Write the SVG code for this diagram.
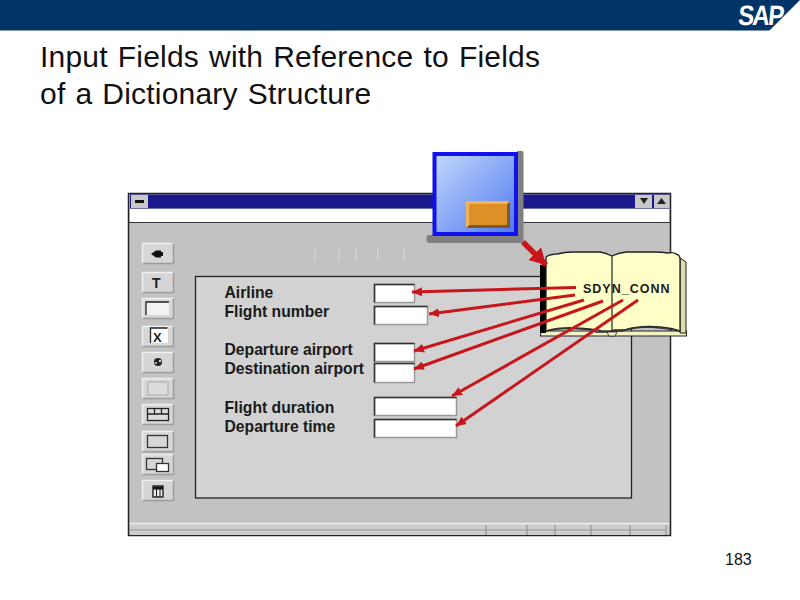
<svg xmlns="http://www.w3.org/2000/svg" width="800" height="600" viewBox="0 0 800 600">
<style>
.title{font:30px "Liberation Sans",Arial,sans-serif;fill:#111;letter-spacing:.2px;word-spacing:1.500px}
.lab{font:bold 15.700px "Liberation Sans",Arial,sans-serif;fill:#1a1a1a}
.fld{fill:#fff;stroke:#999;stroke-width:1.500}
.fe{fill:none;stroke:#333;stroke-width:1.500}
.ic{fill:none;stroke:#222;stroke-width:1.300}
.arr{fill:none;stroke:#c8161d;stroke-width:3;marker-end:url(#ah)}
.tick{stroke:#d8d8d8;stroke-width:1}
</style>
<defs>
<marker id="ah" markerUnits="userSpaceOnUse" markerWidth="11" markerHeight="9" refX="10" refY="4.500" orient="auto"><path d="M0 0L10 4.500L0 9z" fill="#c8161d"/></marker>
<marker id="ahb" markerUnits="userSpaceOnUse" markerWidth="18" markerHeight="18" refX="16" refY="9" orient="auto"><path d="M0 0L16 9L0 18z" fill="#c8161d"/></marker>
<linearGradient id="blue" x1="0" y1="0" x2="1" y2="1"><stop offset="0" stop-color="#c2d9fb"/><stop offset="1" stop-color="#4f78ee"/></linearGradient>
<g id="bv">
<rect x="0" y="0" width="32" height="21" fill="#d6d6d6"/>
<path d="M0.500 21V0.500H32" fill="none" stroke="#f0f0f0" stroke-width="1.500"/>
<path d="M0.500 20.500H31.500V0.500" fill="none" stroke="#9c9c9c" stroke-width="1.500"/>
</g>
</defs>
<rect width="800" height="600" fill="#fff"/>
<g id="header">
<rect width="800" height="30.500" fill="#003366"/>
<path d="M769 31L800 0V31z" fill="#fff"/>
<text transform="translate(737.500 25) scale(.86 1) skewX(-6)" font-family="Liberation Sans,Arial,sans-serif" font-weight="bold" font-size="28" letter-spacing="-2" fill="#fff">SAP</text>
</g>
<g id="heading">
<text class="title" x="40" y="67">Input Fields with Reference to Fields</text>
<text class="title" x="40" y="104">of a Dictionary Structure</text>
</g>
<g id="window">
<rect x="128.500" y="193.500" width="542" height="342" fill="#c2c2c2" stroke="#222" stroke-width="1.500"/>
<rect x="130" y="194.500" width="539" height="14" fill="#1a1a8c"/>
<rect x="131" y="195" width="17" height="13" fill="#c8c8c8"/>
<rect x="135" y="200" width="9" height="3" fill="#111"/>
<rect x="635" y="195" width="17" height="13" fill="#c8c8c8"/>
<rect x="654" y="195" width="15" height="13" fill="#c8c8c8"/>
<path d="M640 198h8l-4 6z" fill="#222"/>
<path d="M657 204h9l-4.500 -6z" fill="#222"/>
<rect x="130" y="209" width="539" height="13" fill="#fff"/>
<path d="M129 222.500H670" stroke="#333" stroke-width="1.200"/>
<path class="tick" d="M315 248v13M339 248v13M356 248v13M378 248v13M404 248v13"/>
<rect x="130" y="524" width="539" height="11" fill="#cdcdcd"/>
<path d="M130 523.500H669" stroke="#eee" stroke-width="1.500"/>
<path d="M130 530H665" stroke="#999" stroke-width="1"/>
<path d="M486 525v10M527 525v10M555 525v10M591 525v10M630 525v10M666 525v10" stroke="#888" stroke-width="1"/>
</g>
<g id="toolbar">
<g id="tool-arrow"><use href="#bv" x="142" y="243"/><path d="M151 254l5 -3.500h5v1.500h2v4h-2v1.500h-5z" fill="#111"/></g>
<g id="tool-text"><use href="#bv" x="142" y="272"/><text x="152" y="288" font-family="Liberation Sans,Arial,sans-serif" font-weight="bold" font-size="14" fill="#222">T</text></g>
<g id="tool-field"><use href="#bv" x="142" y="298"/><rect x="146" y="302" width="23" height="13" fill="#f2f2f2"/><path d="M146 315v-13h23" class="ic"/></g>
<g id="tool-check"><use href="#bv" x="142" y="326"/><rect x="150" y="328" width="18" height="15" fill="#fff"/><path d="M150.500 343v-15h17" class="ic"/><text x="153" y="342" font-family="Liberation Sans,Arial,sans-serif" font-weight="bold" font-size="13" fill="#222">X</text></g>
<g id="tool-radio"><use href="#bv" x="142" y="352"/><circle cx="158" cy="362" r="4" fill="#222"/><circle cx="160" cy="361" r="1.200" fill="#ddd"/><circle cx="156" cy="363" r="1" fill="#ddd"/></g>
<g id="tool-button"><use href="#bv" x="142" y="378"/><rect x="148" y="382" width="20" height="13" fill="#dcdcdc" stroke="#aaa"/></g>
<g id="tool-tabs"><use href="#bv" x="142" y="404"/><rect x="147.500" y="408.500" width="21" height="12" fill="#ddd" stroke="#222" stroke-width="1.300"/><path d="M147.500 414h21M154.500 408.500v5.500M161.500 408.500v5.500" stroke="#222" stroke-width="1.300"/></g>
<g id="tool-box"><use href="#bv" x="142" y="431"/><rect x="147.500" y="435.500" width="20" height="12" fill="none" stroke="#333" stroke-width="1.300"/></g>
<g id="tool-subscreen"><use href="#bv" x="142" y="454"/><rect x="146.500" y="458.500" width="16" height="11" fill="none" stroke="#333" stroke-width="1.300"/><rect x="156.500" y="463.500" width="12" height="8" fill="#fff" stroke="#333" stroke-width="1.300"/></g>
<g id="tool-table"><use href="#bv" x="142" y="480"/><rect x="153" y="486" width="10" height="11" fill="#eee" stroke="#111" stroke-width="1.300"/><path d="M153 488h10" stroke="#111" stroke-width="3"/><path d="M156.500 487v10M160 487v10" stroke="#111" stroke-width="1"/></g>
</g>
<g id="panel">
<rect x="195.500" y="276.500" width="436" height="221.500" fill="#d2d2d2" stroke="#222" stroke-width="1.300"/>
</g>
<g id="field-airline"><text class="lab" x="224.500" y="298">Airline</text><rect class="fld" x="374.500" y="284.500" width="40" height="18"/><path class="fe" d="M374.500 302.500v-18h40"/></g>
<g id="field-flight-number"><text class="lab" x="224.500" y="317">Flight number</text><rect class="fld" x="374.500" y="306.500" width="53" height="18"/><path class="fe" d="M374.500 324.500v-18h53"/></g>
<g id="field-departure-airport"><text class="lab" x="224.500" y="355">Departure airport</text><rect class="fld" x="374.500" y="343.500" width="40" height="18"/><path class="fe" d="M374.500 361.500v-18h40"/></g>
<g id="field-destination-airport"><text class="lab" x="224.500" y="374">Destination airport</text><rect class="fld" x="374.500" y="363.500" width="40" height="19"/><path class="fe" d="M374.500 382.500v-19h40"/></g>
<g id="field-flight-duration"><text class="lab" x="224.500" y="412.500">Flight duration</text><rect class="fld" x="374.500" y="397.500" width="82" height="18"/><path class="fe" d="M374.500 415.500v-18h82"/></g>
<g id="field-departure-time"><text class="lab" x="224.500" y="431.500">Departure time</text><rect class="fld" x="374.500" y="419.500" width="82" height="18"/><path class="fe" d="M374.500 437.500v-18h82"/></g>
<g id="screen-icon">
<path d="M517 151h5q1.500 0 1.500 1.500V243h-94q-3 0 -3 -3v-2q0 -3 3 -3h87.500z" fill="#808080"/>
<rect x="434.500" y="154" width="81.500" height="80" fill="url(#blue)" stroke="#1111ee" stroke-width="4"/>
<rect x="466" y="201" width="44" height="27" fill="#de9026"/>
<path d="M466 228h44v-27l-3 3v21h-38z" fill="#7b5a28"/>
<path d="M466 228v-27h44l-3 3h-38v21z" fill="#efb45c"/>
</g>
<g id="book">
<rect x="540.500" y="331" width="146" height="5" fill="#f4f2c4" stroke="#222" stroke-width="1"/>
<rect x="540" y="265" width="6" height="68" fill="#000"/>
<path d="M680 258l6 4V333H680z" fill="#dedcaa" stroke="#222" stroke-width="1"/>
<path d="M546 331V257q4 -3 11 -3 8 -2 16 -2h27q6 1 12 4 6 -3 14 -4h28q8 0 14 1 6 -1 8 1 4 1 4 5V331q-8 -3 -20 -4 -20 -2 -36 3h-10l-4 2h-14q-4 -3 -14 -3 -20 -2 -36 2z" fill="#ffffc8" stroke="#222" stroke-width="1.300"/>
<path d="M546 331q14 -4 30 -3 18 1 26 3h20q12 -4 28 -4 16 1 30 4" fill="none" stroke="#333" stroke-width="1.500"/>
<path d="M612 256V333" stroke="#222" stroke-width="1.200"/>
<path d="M607 332h10l-2 4h-6z" fill="#fff7c8" stroke="#222" stroke-width="0.800"/>
<text x="583" y="293" font-family="Liberation Sans,Arial,sans-serif" font-weight="bold" font-size="12.500" letter-spacing="1" fill="#1c1c1c">SDYN_CONN</text>
</g>
<g id="connectors">
<path d="M523 242L546 265" fill="none" stroke="#c8161d" stroke-width="5.500" marker-end="url(#ahb)"/>
<path class="arr" d="M576 287.500L412 292"/>
<path class="arr" d="M575 295L429 314"/>
<path class="arr" d="M584 300L414 351"/>
<path class="arr" d="M603 301L414 369"/>
<path class="arr" d="M623 300L452 396"/>
<path class="arr" d="M638 300L456 426"/>
</g>
<g id="page-number"><text x="725" y="565" font-family="Liberation Sans,Arial,sans-serif" font-size="16" fill="#111">183</text></g>
</svg>
